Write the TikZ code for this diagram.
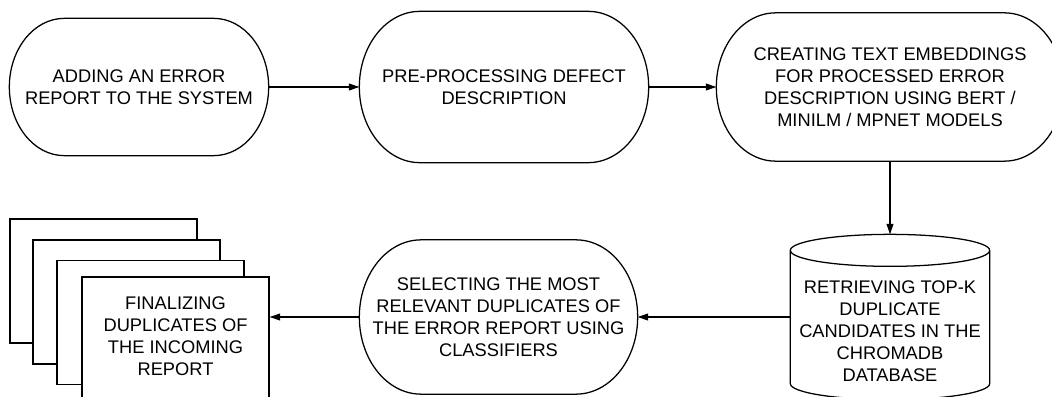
\documentclass[tikz,border=0pt]{standalone}
\usepackage{fontspec}
\setmainfont{Liberation Sans}
\usepackage{tikz}
\usetikzlibrary{arrows.meta,calc}

% outline of a terminal (stadium with elliptic ends)
\newcommand{\termline}[1]{%
  \draw let \p1=(#1.north east), \p2=(#1.south west), \n1={(\y1-\y2)/2}, \n2={0.8*\n1} in
    (\x2+\n2,\y1) -- (\x1-\n2,\y1) arc[start angle=90, end angle=-90, x radius=\n2, y radius=\n1]
    -- (\x2+\n2,\y2) arc[start angle=270, end angle=90, x radius=\n2, y radius=\n1] -- cycle;}
% outline of a database cylinder
\newcommand{\canline}[1]{%
  \draw let \p1=(#1.north east), \p2=(#1.south west), \n1={(\x1-\x2)/2} in
    (\x2,\y1-4mm) -- (\x2,\y2+4mm) arc[start angle=180, end angle=360, x radius=\n1, y radius=4mm]
    -- (\x1,\y1-4mm) arc[start angle=0, end angle=360, x radius=\n1, y radius=4mm];}

\begin{document}
\begin{tikzpicture}[x=0.025cm,y=0.025cm,line width=0.9pt,
  every node/.style={font=\fontsize{13}{15.6}\selectfont, align=center, inner sep=0pt},
  terminal/.style={rectangle, draw=none},
  page/.style={draw, fill=white, rectangle, minimum width=4.675cm, minimum height=3.1cm},
  flow/.style={-{Triangle[length=2.6mm,width=1.7mm]}}]
\useasboundingbox (0,0) rectangle (1052,396);
\clip (0,0) rectangle (1052,396);

\node[terminal, minimum width=6.45cm, minimum height=3.4cm] (add) at (139,309)
    {ADDING AN ERROR\\REPORT TO THE SYSTEM};
\node[terminal, minimum width=7.2cm, minimum height=3.75cm] (prep) at (504,309)
    {PRE-PROCESSING DEFECT\\DESCRIPTION};
\node[terminal, minimum width=8.65cm, minimum height=3.675cm] (embed) at (890,309)
    {CREATING TEXT EMBEDDINGS\\FOR PROCESSED ERROR\\DESCRIPTION USING BERT /\\MINILM / MPNET MODELS};
\node[terminal, minimum width=6.925cm, minimum height=3.825cm] (select) at (498.5,79)
    {SELECTING THE MOST\\RELEVANT DUPLICATES OF\\THE ERROR REPORT USING\\CLASSIFIERS};
\node[rectangle, minimum width=4.95cm, minimum height=4.1cm] (chroma) at (890,79) {};
\node at ([yshift=-0.35cm]chroma.center)
    {RETRIEVING TOP-K\\DUPLICATE\\CANDIDATES IN THE\\CHROMADB\\DATABASE};

\termline{add}
\termline{prep}
\termline{embed}
\termline{select}
\canline{chroma}

% stack of reports
\node[page] (rep1) at (103.5,115) {};
\node[page] (rep2) at (126.5,94) {};
\node[page] (rep3) at (150.5,73.5) {};
\node[page] (rep4) at (175.5,57) {};
\node at ([yshift=0.08cm]rep4.center) {FINALIZING\\DUPLICATES OF\\THE INCOMING\\REPORT};

\draw[flow] (add.east) -- (prep.west);
\draw[flow] (prep.east) -- (embed.west);
\draw[flow] (embed.south) -- (chroma.north);
\draw[flow] (chroma.west) -- (select.east);
\draw[flow] (select.west) -- (select.west -| rep4.east);
\end{tikzpicture}
\end{document}
